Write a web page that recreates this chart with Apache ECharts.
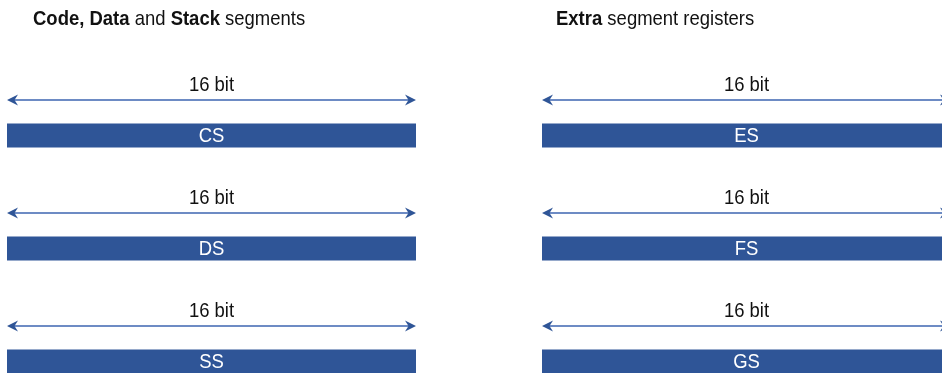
<!DOCTYPE html>
<html>
<head>
<meta charset="utf-8">
<style>
  html, body { margin: 0; padding: 0; background: #fff; }
  #chart { width: 942px; height: 373px; }
</style>
<script src="https://cdn.jsdelivr.net/npm/echarts@6/dist/echarts.min.js"></script>
</head>
<body>
<div id="chart"></div>
<script>
// segment registers, one list per panel
var leftRegs = ['CS', 'DS', 'SS'];
var rightRegs = ['ES', 'FS', 'GS'];
var regBits = [16, 16, 16];
var bitLabel = '16 bit';

var FONT = '"Liberation Sans", Arial, sans-serif';
var NARROW = 0.88; // squeeze to look like a condensed face
var BAR = '#2f5597';
var LINE = '#6d8bc4';

function arrowHead(x, y, dir) {
  // dir = -1 points left, 1 points right
  var L = 11, H = 5.5, notch = 3.5;
  return {
    type: 'polygon',
    shape: { points: [
      [x, y],
      [x - dir * L, y - H],
      [x - dir * (L - notch), y],
      [x - dir * L, y + H]
    ] },
    style: { fill: BAR }
  };
}

function label(txt, x, y, color) {
  return {
    type: 'text', x: x, y: y, scaleX: NARROW,
    style: {
      text: txt, x: 0, y: 0,
      align: 'center', verticalAlign: 'middle',
      fill: color, font: '21px ' + FONT
    }
  };
}

function renderItem(params, api) {
  var idx = api.value(0);
  var p0 = api.coord([0, idx]);
  var p1 = api.coord([api.value(1), idx]);
  var bh = 24;
  var ay = p0[1] - 35.5;
  var cx = (p0[0] + p1[0]) / 2;
  return {
    type: 'group',
    children: [
      {
        type: 'rect',
        shape: { x: p0[0], y: p0[1] - bh / 2, width: p1[0] - p0[0], height: bh },
        style: { fill: BAR }
      },
      label(api.value(2), cx, p0[1] + 1, '#fff'),
      {
        type: 'line',
        shape: { x1: p0[0] + 4, y1: ay, x2: p1[0] - 4, y2: ay },
        style: { stroke: LINE, lineWidth: 2 }
      },
      arrowHead(p0[0], ay, -1),
      arrowHead(p1[0], ay, 1),
      label(bitLabel, cx, ay - 14.5, '#111')
    ]
  };
}

function rows(names) {
  return names.map(function (n, i) { return [i, regBits[i], n]; });
}

function title(txt, x) {
  return {
    type: 'text', x: x, y: 19, scaleX: NARROW,
    style: {
      text: txt, x: 0, y: 0, verticalAlign: 'middle',
      font: '21px ' + FONT, fill: '#111',
      rich: { b: { font: 'bold 21px ' + FONT, fill: '#111' } }
    }
  };
}

var chart = echarts.init(document.getElementById('chart'));
chart.setOption({
  animation: false,
  graphic: [
    title('{b|Code,} {b|Data} and {b|Stack} segments', 33),
    title('{b|Extra} segment registers', 556)
  ],
  // grids stay inside the canvas; axis ranges are stretched so rows sit
  // 113px apart and the right panel runs past the right edge
  grid: [
    { left: 7, width: 409, top: 79, height: 294 },
    { left: 542, width: 400, top: 79, height: 294 }
  ],
  xAxis: [
    { gridIndex: 0, type: 'value', min: 0, max: 16, show: false },
    { gridIndex: 1, type: 'value', min: 0, max: 16 * 400 / 409, show: false }
  ],
  yAxis: [
    { gridIndex: 0, type: 'value', min: -0.5, max: -0.5 + 294 / 113, inverse: true, show: false },
    { gridIndex: 1, type: 'value', min: -0.5, max: -0.5 + 294 / 113, inverse: true, show: false }
  ],
  series: [
    { type: 'custom', xAxisIndex: 0, yAxisIndex: 0, renderItem: renderItem, data: rows(leftRegs), clip: false },
    { type: 'custom', xAxisIndex: 1, yAxisIndex: 1, renderItem: renderItem, data: rows(rightRegs), clip: false }
  ]
});
</script>
</body>
</html>
